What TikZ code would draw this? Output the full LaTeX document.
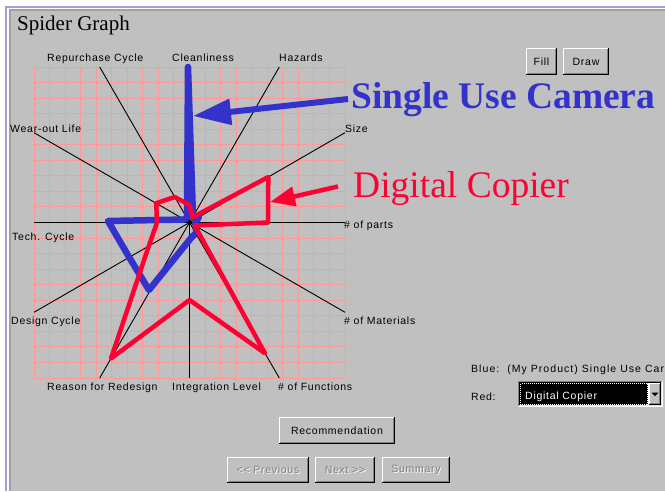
\documentclass[tikz,border=0pt]{standalone}
\usepackage{fontspec}
\setmainfont{Liberation Serif}
\newfontfamily\uifont[LetterSpace=7]{Liberation Sans}
\newfontfamily\uiwide[LetterSpace=10]{Liberation Sans}
\usetikzlibrary{arrows.meta,calc}

\definecolor{panel}{HTML}{C0C0C0}
\definecolor{gridpink}{HTML}{FF9999}
\definecolor{camblue}{HTML}{3333CC}
\definecolor{copred}{HTML}{FF0033}
\definecolor{frameblue}{HTML}{A0A0E0}
\definecolor{btnshadow}{HTML}{808080}
\definecolor{edgegray}{HTML}{A0A0A0}
\definecolor{lightedge}{HTML}{DFDFDF}

\tikzset{
  uitext/.style={inner sep=0pt, anchor=base west, font=\uifont\fontsize{10.5}{12}\selectfont},
  axislabel/.style={uitext},
  spoke/.style={black, line width=0.9pt},
  gridline/.style={gridpink, line width=1pt},
  winbtn/.style={fill=panel, inner sep=0pt, font=\uifont\fontsize{10.5}{12}\selectfont},
  greytext/.style={inner sep=0pt, font=\uifont\fontsize{10.5}{12}\selectfont, text=btnshadow},
  shadowtext/.style={inner sep=0pt, font=\uifont\fontsize{10.5}{12}\selectfont, text=white},
  profile/.style={line width=#1, line join=round, line cap=round},
}

% raised Windows-style edges around a button node
\newcommand\btnedges[1]{%
  \draw[white, line width=1pt] ([shift={(0.5,-1)}]#1.south west) -- ([shift={(0.5,0.5)}]#1.north west) -- ([shift={(-1,0.5)}]#1.north east);
  \draw[black, line width=1pt] ([shift={(0,-0.5)}]#1.south west) -- ([shift={(-0.5,-0.5)}]#1.south east) -- ([shift={(-0.5,0)}]#1.north east);
  \draw[btnshadow, line width=1pt] ([shift={(1,-1.5)}]#1.south west) -- ([shift={(-1.5,-1.5)}]#1.south east) -- ([shift={(-1.5,1)}]#1.north east);
}

\begin{document}
\begin{tikzpicture}[x=1pt,y=-1pt]
\useasboundingbox (0,0) rectangle (665,491);
\clip (0,0) rectangle (665,491);

% window frame and panel
\fill[white] (0,0) rectangle (665,491);
\fill[frameblue] (5,6) rectangle (665,491);
\fill[white] (7.3,8) rectangle (665,491);
\fill[edgegray] (8.7,9.3) rectangle (665,491);
\fill[panel] (11,11) rectangle (665,491);

\node[anchor=base west, inner sep=0pt, font=\fontsize{21}{24}\selectfont] (title) at (17,30) {Spider Graph};

% chart grid
\foreach \i in {0,...,20}{
  \draw[gridline] ({34+15.55*\i},67) -- ({34+15.55*\i},378);
  \draw[gridline] (34,{67+15.55*\i}) -- (345,{67+15.55*\i});
}

% spokes
\coordinate (c) at (189.5,222.5);
\coordinate (aClean) at (189.5,67);
\coordinate (aHaz) at (279.3,67);
\coordinate (aSize) at (345,132.7);
\coordinate (aParts) at (345,222.5);
\coordinate (aMat) at (345,312.3);
\coordinate (aFunc) at (279.3,378);
\coordinate (aInteg) at (189.5,378);
\coordinate (aReason) at (99.7,378);
\coordinate (aDesign) at (34,312.3);
\coordinate (aTech) at (34,222.5);
\coordinate (aWear) at (34,132.7);
\coordinate (aRepur) at (99.7,67);
\foreach \e in {aClean,aHaz,aSize,aMat,aFunc,aInteg,aReason,aDesign,aWear,aRepur}
  \draw[spoke] (c) -- (\e);
\draw[spoke] (aTech) -- (aParts);

% profile of the single use camera
\draw[camblue, profile=6.5pt]
  (188,67) -- (193,216.4) -- (199,217) -- (195.5,222.5) -- (195.6,226)
  -- (196.5,232.5) -- (191,238) -- (149,290) -- (129,257) -- (108,221)
  -- (184,219.5) -- (187,218) -- cycle;

% profile of the digital copier
\draw[copred, profile=4.5pt]
  (189.5,205) -- (192.5,217.3) -- (268.3,177) -- (268,222.5) -- (194.7,225.5)
  -- (265,353.3) -- (189.5,300) -- (111,358.5) -- (148.8,246) -- (157,222.5)
  -- (156.2,203.2) -- (174.75,197) -- cycle;

\fill[black] (c) circle (1.8);

% axis labels
\node[axislabel] (lRepur) at (47,61) {Repurchase Cycle};
\node[axislabel] (lClean) at (172,61) {Cleanliness};
\node[axislabel] (lHaz) at (279,61) {Hazards};
\node[axislabel] (lWear) at (10,132) {Wear-out Life};
\node[axislabel] (lSize) at (345,132) {Size};
\node[axislabel] (lParts) at (344,228) {\# of parts};
\node[axislabel] (lTech) at (12,240) {Tech. Cycle};
\node[axislabel] (lDesign) at (11,324) {Design Cycle};
\node[axislabel] (lMat) at (344,324) {\# of Materials};
\node[axislabel] (lReason) at (47,390) {Reason for Redesign};
\node[axislabel] (lInteg) at (172,390) {Integration Level};
\node[axislabel] (lFunc) at (278,390) {\# of Functions};

% callouts
\node[anchor=base west, inner sep=0pt, text=camblue, font=\bfseries\fontsize{37.5}{40}\selectfont] (camLabel) at (351,108) {Single Use Camera};
\node[anchor=base west, inner sep=0pt, text=copred, font=\fontsize{37.5}{40}\selectfont] (copLabel) at (353,197) {Digital Copier};
\coordinate (camFrom) at (348,99);
\coordinate (camTip) at (193,116);
\coordinate (copFrom) at (338,186.5);
\coordinate (copTip) at (270,202);
\draw[camblue, line width=6pt, -{Triangle[length=38pt,width=25pt]}] (camFrom) -- (camTip);
\draw[copred, line width=4.5pt, -{Triangle[length=25pt,width=19pt]}] (copFrom) -- (copTip);

% buttons
\node[winbtn, minimum width=31pt, minimum height=27pt] (fillBtn) at (541.5,61.5) {Fill};
\btnedges{fillBtn}
\node[winbtn, minimum width=46pt, minimum height=27pt] (drawBtn) at (586,61.5) {Draw};
\btnedges{drawBtn}
\node[winbtn, minimum width=116pt, minimum height=27pt] (recBtn) at (337,430.5) {Recommendation};
\btnedges{recBtn}

\node[winbtn, minimum width=82pt, minimum height=26pt] (prevBtn) at (268,470) {};
\btnedges{prevBtn}
\node[shadowtext] (prevShadow) at ($(prevBtn)+(1,1)$) {<< Previous};
\node[greytext] (prevText) at (prevBtn) {<< Previous};
\node[winbtn, minimum width=60pt, minimum height=26pt] (nextBtn) at (345,470) {};
\btnedges{nextBtn}
\node[shadowtext] (nextShadow) at ($(nextBtn)+(1,1)$) {Next >>};
\node[greytext] (nextText) at (nextBtn) {Next >>};
\node[winbtn, minimum width=68pt, minimum height=26pt] (sumBtn) at (416,470) {};
\btnedges{sumBtn}
\node[shadowtext] (sumShadow) at ($(sumBtn)+(1,1)$) {Summary};
\node[greytext] (sumText) at (sumBtn) {Summary};

% product selection
\node[uitext, font=\uiwide\fontsize{10.5}{12}\selectfont] (blueInfo) at (471,372) {Blue:\hspace{8pt}(My Product) Single Use Car};
\node[uitext] (redInfo) at (471,400) {Red:};

% sunken combo box
\fill[white] (518,381) rectangle (663,407);
\draw[btnshadow, line width=1pt] (518.5,407) -- (518.5,381.5) -- (663,381.5);
\draw[black, line width=1pt] (519.5,406) -- (519.5,382.5) -- (662,382.5);
\draw[white, line width=1pt] (518,406.5) -- (662.5,406.5) -- (662.5,381);
\draw[lightedge, line width=1pt] (519,405.5) -- (661.5,405.5) -- (661.5,382);
\fill[black] (520,383) rectangle (648,405);
\draw[white, line width=1pt, dash pattern=on 1pt off 1pt] (520.5,383.5) rectangle (647.5,404.5);
\node[uitext, text=white] (redChoice) at (525,399.5) {Digital Copier};
\node[winbtn, minimum width=12pt, minimum height=22pt] (dropBtn) at (655,394) {};
\btnedges{dropBtn}
\fill[black] (651.5,392.5) -- (658.5,392.5) -- (655,396) -- cycle;
\end{tikzpicture}
\end{document}
